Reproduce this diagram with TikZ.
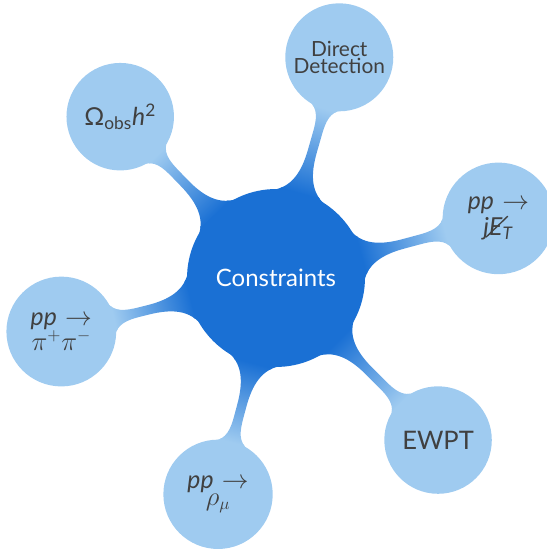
\documentclass[tikz,border=0pt]{standalone}
\usepackage{fontspec}
\setmainfont{Lato}
\setsansfont{Lato}
\usetikzlibrary{mindmap}
\definecolor{hubblue}{RGB}{26,112,212}
\definecolor{leafblue}{RGB}{159,203,240}
\definecolor{leaftext}{RGB}{64,64,64}
\newcommand{\slashedE}{\makebox[0pt][l]{\kern-0.14em\raisebox{-0.1em}{\rotatebox{44}{\rule{1.22em}{0.055em}}}}\textit{E}}
\begin{document}
\begin{tikzpicture}[mindmap, concept color=hubblue, x=0.022727cm, y=0.022727cm,
  hub/.style={concept, concept color=hubblue, minimum size=4cm, text width=3.6cm,
    text=white, font=\fontsize{15.5}{11}\selectfont},
  leaf/.style={concept, minimum size=2.4cm, text width=2.2cm,
    text=leaftext, font=\fontsize{16}{11}\selectfont},
  branch/.style={concept color=leafblue}]
  \useasboundingbox (0,0) rectangle (547,549);

  % central concept with its six branches
  \node[hub] (root) at (276,271) {Constraints}
    child[branch, grow=134.5, level distance=5.095cm]
      {node[leaf] (omega) {Ω\textsubscript{obs}\textit{h}\textsuperscript{2}}}
    child[branch, grow=74.3, level distance=5.216cm]
      {node[leaf, font=\fontsize{13.5}{11.2}\selectfont] (direct) {Direct\\Detection}}
    child[branch, grow=15.4, level distance=5.232cm]
      {node[leaf] (jet) {\textit{pp} $\rightarrow$\\\textit{j}\slashedE\textsubscript{\textit{T}}}}
    child[branch, grow=315.7, level distance=5.207cm]
      {node[leaf, font=\fontsize{16.5}{11}\selectfont] (ewpt) {EWPT}}
    child[branch, grow=255.8, level distance=5.088cm]
      {node[leaf] (rho) {\textit{pp} $\rightarrow$\\$\rho_\mu$}}
    child[branch, grow=194.7, level distance=5.027cm]
      {node[leaf] (pipi) {\textit{pp} $\rightarrow$\\$\pi^+\pi^-$}};
\end{tikzpicture}
\end{document}
